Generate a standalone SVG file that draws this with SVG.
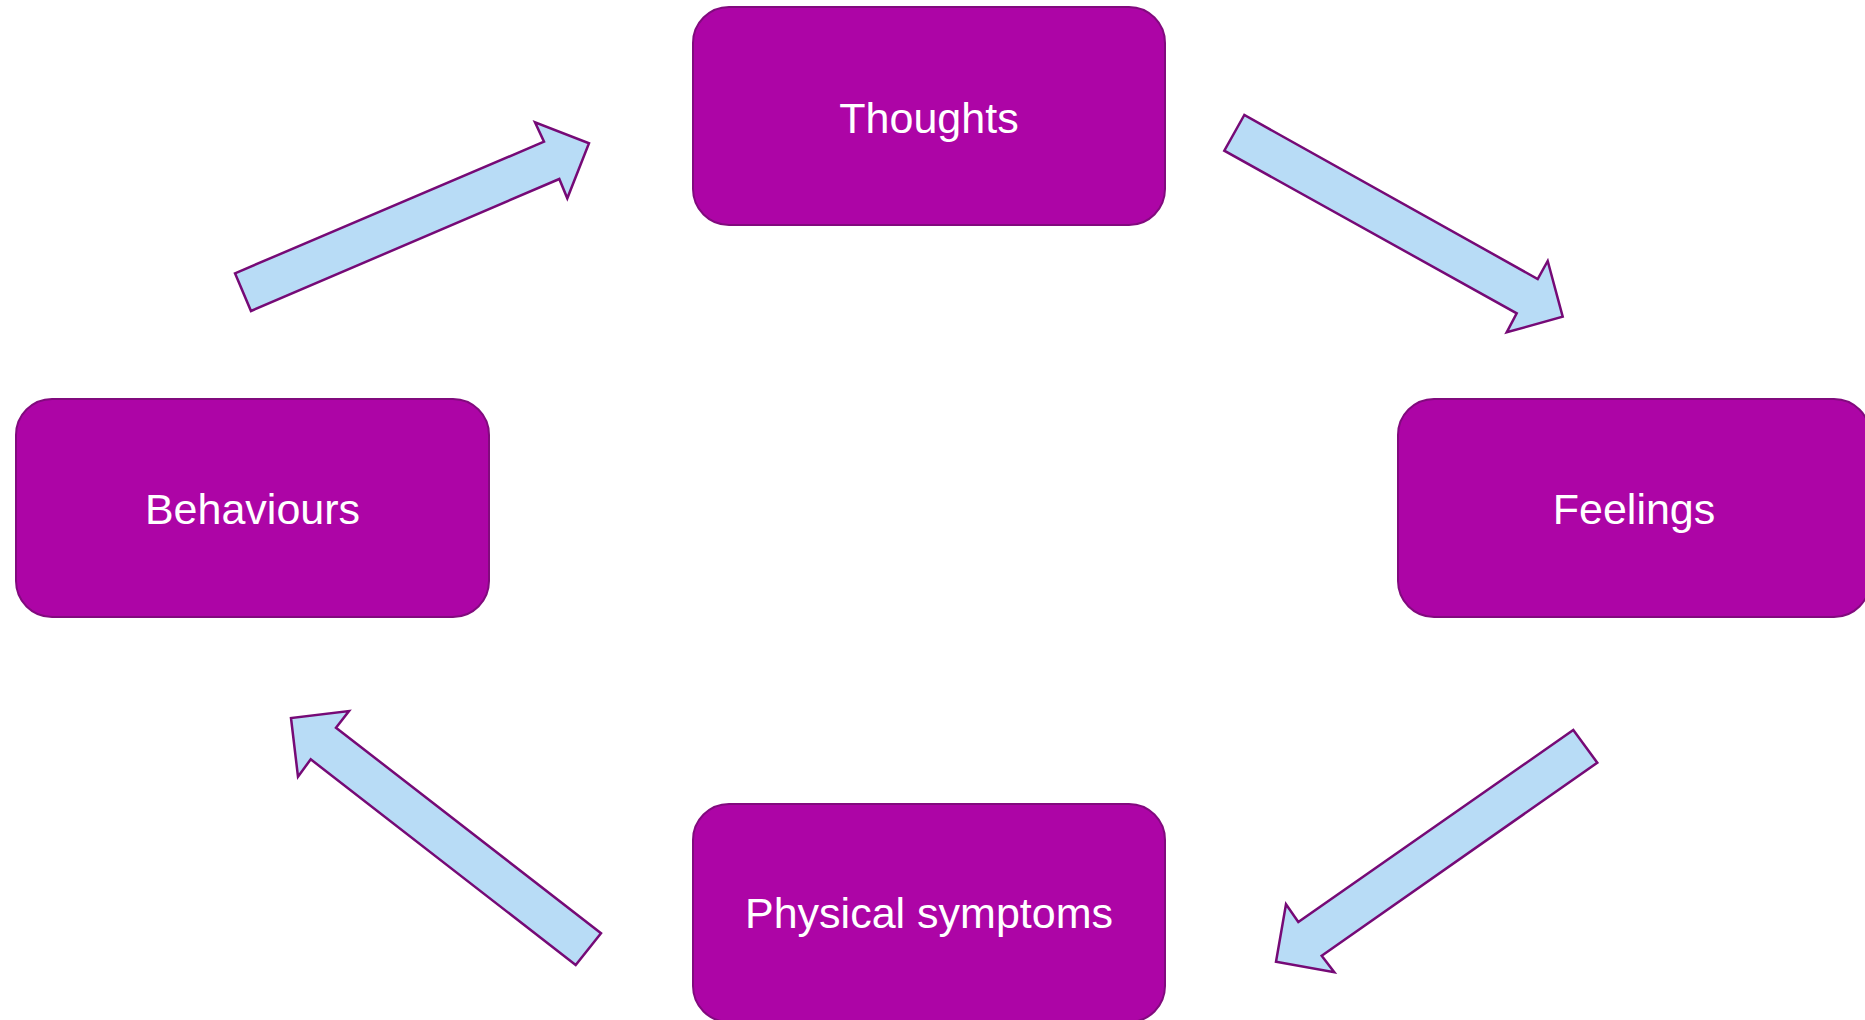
<svg xmlns="http://www.w3.org/2000/svg" width="1865" height="1020" viewBox="0 0 1865 1020">
<style>
.box{fill:#ad05a6;stroke:#820a7e;stroke-width:2}
.lbl{fill:#ffffff;font-family:"Liberation Sans",Arial,sans-serif;font-size:43px;text-anchor:middle}
.arr{fill:#b8dcf6;stroke:#760a76;stroke-width:2.5;stroke-linejoin:miter}
</style>
<rect width="1865" height="1020" fill="#ffffff"/>
<g id="connectors">
<polygon class="arr" points="235,273.3 251,311 559.3,179 567.3,198.3 589,143.3 535,122.3 544,141.7"/>
<polygon class="arr" points="1244.3,115 1224.3,150.7 1516.7,313.3 1506.7,332.3 1562.7,316.7 1547.7,261 1537.7,279"/>
<polygon class="arr" points="1573.3,730 1597.3,762.7 1321.7,955.7 1334.3,972.3 1276,961.7 1286,904.3 1298.3,922"/>
<polygon class="arr" points="601,933.3 575.7,965 310.7,759.3 298,776.7 291,718 349,711 336,727.7"/>
</g>
<g id="thoughts">
<rect class="box" x="693" y="7" width="472" height="218" rx="36"/>
<text class="lbl" x="929" y="133">Thoughts</text>
</g>
<g id="feelings">
<rect class="box" x="1398" y="399" width="472" height="218" rx="36"/>
<text class="lbl" x="1634" y="524">Feelings</text>
</g>
<g id="physical">
<rect class="box" x="693" y="804" width="472" height="218" rx="36"/>
<text class="lbl" x="929" y="928">Physical symptoms</text>
</g>
<g id="behaviours">
<rect class="box" x="16" y="399" width="473" height="218" rx="36"/>
<text class="lbl" x="252.5" y="524">Behaviours</text>
</g>
</svg>
